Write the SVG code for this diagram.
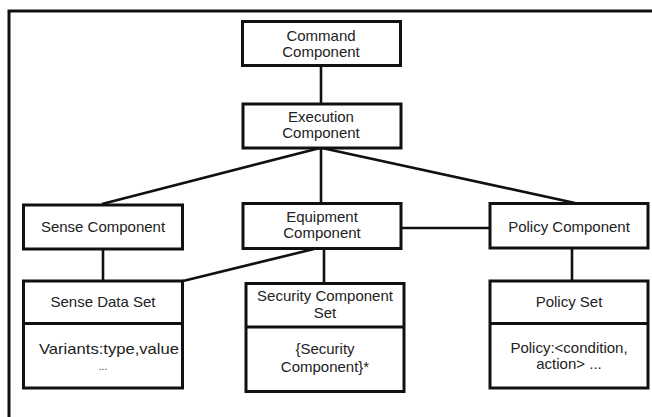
<svg xmlns="http://www.w3.org/2000/svg" width="652" height="417" viewBox="0 0 652 417">
<style>
.box{fill:#fff;stroke:#111;stroke-width:3}
.div{stroke:#111;stroke-width:3}
.ln{stroke:#111;stroke-width:2.6;fill:none}
text{font-family:"Liberation Sans",Arial,sans-serif;font-size:15px;fill:#222;text-anchor:middle}
</style>
<rect width="652" height="417" fill="#fff"/>
<path d="M9,420 V11 H656" fill="none" stroke="#111" stroke-width="3"/>
<g id="connectors">
<line class="ln" x1="321" y1="66" x2="321" y2="104"/>
<line class="ln" x1="320" y1="148" x2="102" y2="204"/>
<line class="ln" x1="321" y1="148" x2="321" y2="204"/>
<line class="ln" x1="322" y1="148" x2="575" y2="203"/>
<line class="ln" x1="401" y1="228" x2="490" y2="228"/>
<line class="ln" x1="103" y1="249" x2="103" y2="281"/>
<line class="ln" x1="318" y1="248" x2="183" y2="281"/>
<line class="ln" x1="324" y1="248" x2="324" y2="283"/>
<line class="ln" x1="572" y1="248" x2="572" y2="281"/>
</g>
<g id="command">
<rect class="box" x="242.5" y="21.5" width="158" height="44"/>
<text x="321" y="41">Command</text>
<text x="321" y="57">Component</text>
</g>
<g id="execution">
<rect class="box" x="243" y="104" width="158" height="44"/>
<text x="321" y="122">Execution</text>
<text x="321" y="138">Component</text>
</g>
<g id="sense">
<rect class="box" x="23.5" y="205" width="159" height="44"/>
<text x="103" y="232">Sense Component</text>
</g>
<g id="equipment">
<rect class="box" x="243" y="203.5" width="158" height="45"/>
<text x="322" y="222">Equipment</text>
<text x="322" y="238">Component</text>
</g>
<g id="policy">
<rect class="box" x="490" y="203.5" width="158" height="44.5"/>
<text x="569" y="232">Policy Component</text>
</g>
<g id="sensedata">
<rect class="box" x="23.5" y="281" width="159" height="107"/>
<line class="div" x1="23.5" y1="323.5" x2="182.5" y2="323.5"/>
<text x="103" y="307">Sense Data Set</text>
<text x="109" y="354" textLength="140" lengthAdjust="spacingAndGlyphs">Variants:type,value</text>
<text x="103" y="370" style="font-size:10px">...</text>
</g>
<g id="security">
<rect class="box" x="246" y="283.5" width="158" height="108"/>
<line class="div" x1="246" y1="327" x2="404" y2="327"/>
<text x="325" y="301">Security Component</text>
<text x="325" y="318">Set</text>
<text x="325" y="354">{Security</text>
<text x="325" y="371.5">Component}*</text>
</g>
<g id="policyset">
<rect class="box" x="490" y="281" width="158" height="107"/>
<line class="div" x1="490" y1="323.5" x2="648" y2="323.5"/>
<text x="569" y="307">Policy Set</text>
<text x="569" y="353">Policy:&lt;condition,</text>
<text x="569" y="369">action&gt; ...</text>
</g>
</svg>
